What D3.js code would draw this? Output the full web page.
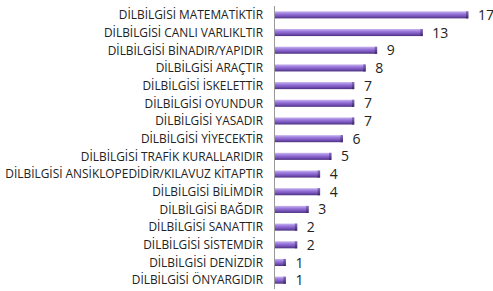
<!DOCTYPE html>
<html>
<head>
<meta charset="utf-8">
<script src="https://cdn.jsdelivr.net/npm/d3@7"></script>
<style>
  body { margin: 0; background: #fff; }
  svg { display: block; }
</style>
</head>
<body>
<svg id="chart" width="493" height="291"></svg>
<script>
// answers, top to bottom
var categories = [
  "DİLBİLGİSİ MATEMATİKTİR",
  "DİLBİLGİSİ CANLI VARLIKLTIR",
  "DİLBİLGİSİ BİNADIR/YAPIDIR",
  "DİLBİLGİSİ ARAÇTIR",
  "DİLBİLGİSİ İSKELETTİR",
  "DİLBİLGİSİ OYUNDUR",
  "DİLBİLGİSİ YASADIR",
  "DİLBİLGİSİ YİYECEKTİR",
  "DİLBİLGİSİ TRAFİK KURALLARIDIR",
  "DİLBİLGİSİ ANSİKLOPEDİDİR/KILAVUZ KİTAPTIR",
  "DİLBİLGİSİ BİLİMDİR",
  "DİLBİLGİSİ BAĞDIR",
  "DİLBİLGİSİ SANATTIR",
  "DİLBİLGİSİ SİSTEMDİR",
  "DİLBİLGİSİ DENİZDİR",
  "DİLBİLGİSİ ÖNYARGIDIR"
];
var counts = [17, 13, 9, 8, 7, 7, 7, 6, 5, 4, 4, 3, 2, 2, 1, 1];

var svg = d3.select("#chart");
var axisX = 274;

var x = d3.scaleLinear().domain([0, 17]).range([axisX, 468]);
var y = d3.scaleBand().domain(categories).range([6, 289]).paddingInner(0.6).paddingOuter(0.3);

// bar gradient, light on top, dark at the bottom
var defs = svg.append("defs");
var grad = defs.append("linearGradient").attr("id", "barGrad")
  .attr("x1", 0).attr("y1", 0).attr("x2", 0).attr("y2", 1);
grad.append("stop").attr("offset", "0%").attr("stop-color", "#c9b6f0");
grad.append("stop").attr("offset", "35%").attr("stop-color", "#9a78dc");
grad.append("stop").attr("offset", "70%").attr("stop-color", "#7652b8");
grad.append("stop").attr("offset", "100%").attr("stop-color", "#4a2f80");

var capGrad = defs.append("linearGradient").attr("id", "capGrad")
  .attr("x1", 0).attr("y1", 0).attr("x2", 0).attr("y2", 1);
capGrad.append("stop").attr("offset", "0%").attr("stop-color", "#8a70c0");
capGrad.append("stop").attr("offset", "100%").attr("stop-color", "#3a2466");

var rows = svg.selectAll("g.row").data(categories).enter().append("g").attr("class", "row");

rows.append("rect")
  .attr("x", axisX)
  .attr("y", function(d) { return y(d); })
  .attr("width", function(d, i) { return x(counts[i]) - axisX; })
  .attr("height", y.bandwidth())
  .attr("fill", "url(#barGrad)");

// darker end cap
rows.append("rect")
  .attr("x", function(d, i) { return x(counts[i]) - 2; })
  .attr("y", function(d) { return y(d); })
  .attr("width", 2.5)
  .attr("height", y.bandwidth())
  .attr("fill", "url(#capGrad)");

// value labels
rows.append("text")
  .attr("x", function(d, i) { return x(counts[i]) + 10; })
  .attr("y", function(d) { return y(d) + y.bandwidth() / 2; })
  .attr("dy", "0.36em")
  .attr("font-family", "Open Sans, sans-serif")
  .attr("font-size", 14)
  .attr("fill", "#222")
  .text(function(d, i) { return counts[i]; });

// category labels
rows.append("text")
  .attr("x", 263)
  .attr("y", function(d) { return y(d) + y.bandwidth() / 2; })
  .attr("dy", "0.36em")
  .attr("text-anchor", "end")
  .attr("font-family", "Open Sans, sans-serif")
  .attr("font-size", 11.9)
  .attr("fill", "#222")
  .text(function(d) { return d; });

// vertical axis line
svg.append("line")
  .attr("x1", axisX + 0.5).attr("x2", axisX + 0.5)
  .attr("y1", 6).attr("y2", 289)
  .attr("stroke", "#999").attr("stroke-width", 1);
</script>
</body>
</html>
